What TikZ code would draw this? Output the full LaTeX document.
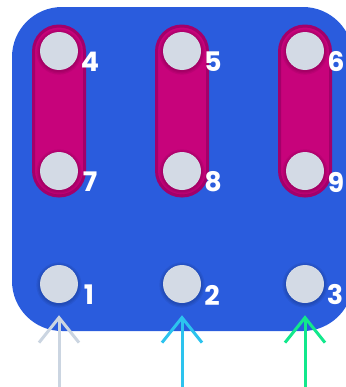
\documentclass[tikz,border=0pt]{standalone}
\usepackage{fontspec}
\setmainfont{Poppins}
\usepackage{tikz}
\usetikzlibrary{arrows.meta}
\usetikzlibrary{calc}
\usetikzlibrary{positioning}
\definecolor{board-blue}{HTML}{2A5CDD}
\definecolor{pill-pink}{HTML}{C7037B}
\definecolor{pill-edge}{HTML}{A3006A}
\definecolor{pin-grey}{HTML}{D3DAE5}
\definecolor{in-grey}{HTML}{CBD5E1}
\definecolor{in-cyan}{HTML}{2CC3EE}
\definecolor{in-green}{HTML}{12E88C}

\tikzset{
  pin/.style={circle, fill=pin-grey, minimum size=11.4mm, inner sep=0pt},
  pinshadow/.style={circle, fill=black, opacity=0.06, minimum size=#1, inner sep=0pt},
  pinlabel/.style={text=white, font=\bfseries\fontsize{23}{23}\selectfont, inner sep=0pt},
  pill/.style={fill=pill-pink, draw=pill-edge, line width=0.9mm, rounded corners=7.6mm},
  feed/.style={line width=0.9mm, -{Straight Barb[length=7.5mm, width=12mm]}, shorten >=3.6mm}
}

\begin{document}
\begin{tikzpicture}[x=0.3mm, y=-0.3mm]

    % frame
    \useasboundingbox (0,0) rectangle (346,387);
    \clip (0,0) rectangle (346,387);

    % board
    \fill[board-blue, rounded corners=15mm] (12,7) rectangle (353,331);

    % pills
    \foreach \x in {59,182,305}
        \draw[pill] (\x-25.5,26) rectangle (\x+25.5,196);

    % pins
    \foreach \x/\t/\m/\b in {59/4/7/1,182/5/8/2,305/6/9/3} {
        \foreach \y in {52,172,285}
            \foreach \s in {12mm,12.8mm,13.6mm}
                \node[pinshadow=\s] at (\x,\y) {};
        \node[pin] (p\t) at (\x,51) {};
        \node[pin] (p\m) at (\x,171) {};
        \node[pin] (p\b) at (\x,284) {};
        \node[pinlabel] at ($(p\t)+(31,11)$) {\t};
        \node[pinlabel] at ($(p\m)+(31,11)$) {\m};
        \node[pinlabel] at ($(p\b)+(30,11)$) {\b};
    }

    % inputs
    \coordinate (in1) at (59,390);
    \coordinate (in2) at (182,390);
    \coordinate (in3) at (305,390);
    \draw[feed, in-grey] (in1) -- (p1.south);
    \draw[feed, in-cyan] (in2) -- (p2.south);
    \draw[feed, in-green] (in3) -- (p3.south);

\end{tikzpicture}
\end{document}
